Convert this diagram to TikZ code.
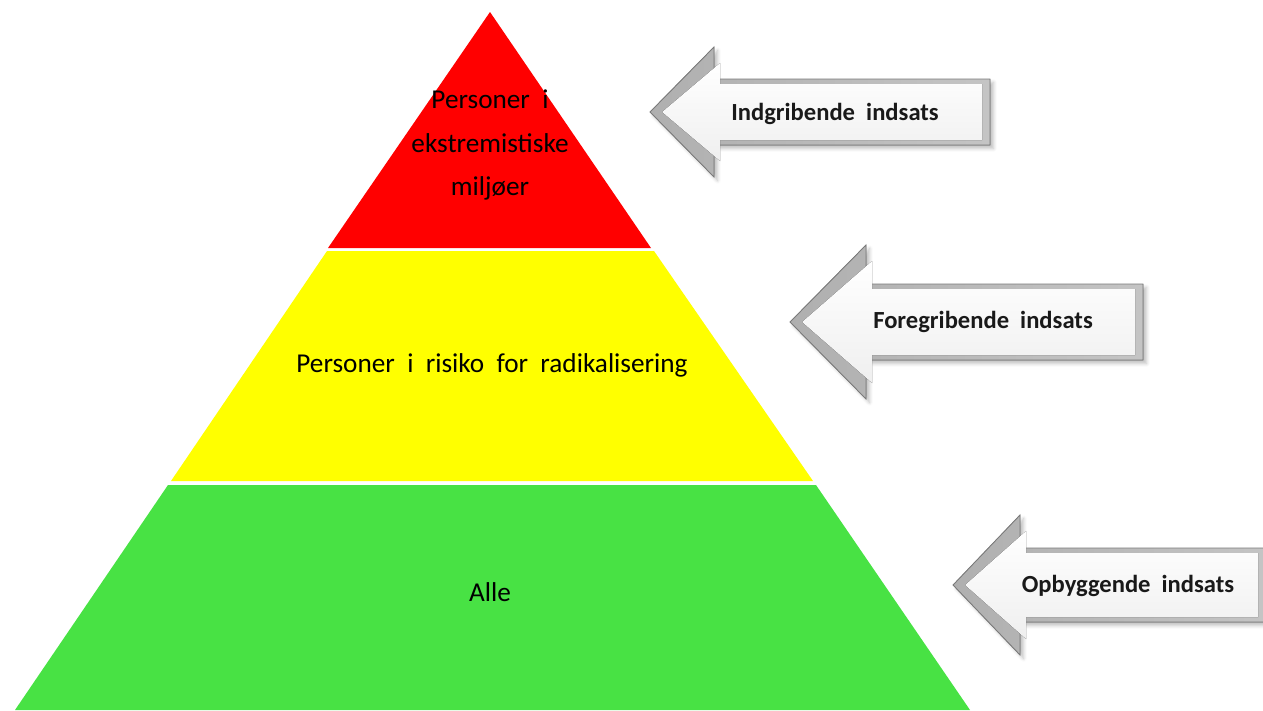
\documentclass[tikz,border=0pt]{standalone}
\usepackage{fontspec}
\setmainfont{Carlito}
\usetikzlibrary{shadows.blur}

\definecolor{topred}{HTML}{FF0000}
\definecolor{midyellow}{HTML}{FFFF00}
\definecolor{basegreen}{HTML}{48E244}
\definecolor{arrowrim}{HTML}{C4C4C4}
\definecolor{arrowedge}{HTML}{7A7A7A}
\definecolor{arrowface}{HTML}{EFEFEF}

% block arrow pointing left: tip x, centre y, head half height, head base x, shaft half height, right end x
\newcommand{\indsatspil}[6]{%
  \filldraw[left color=arrowedge!60, right color=arrowrim, draw=arrowedge, line width=0.5pt,
    blur shadow={shadow xshift=2pt, shadow yshift=-2pt, shadow blur steps=6, shadow opacity=25}]
    (#1,#2) -- (#4,#2-#3) -- (#4,#2-#5) -- (#6,#2-#5) -- (#6,#2+#5) -- (#4,#2+#5) -- (#4,#2+#3) -- cycle;
  \fill[top color=white, bottom color=arrowface]
    (#1+12,#2) -- (#4+6,#2-#3+16) -- (#4+6,#2-#5+5) -- (#6-8,#2-#5+5) -- (#6-8,#2+#5-5) -- (#4+6,#2+#5-5) -- (#4+6,#2+#3-16) -- cycle;
}

\tikzset{
  leveltext/.style={align=center, font=\fontsize{15.5}{25}\selectfont, inner sep=0pt},
  arrowtext/.style={font=\fontsize{14}{16}\selectfont\bfseries, text=black!90, inner sep=0pt}
}

\begin{document}
\begin{tikzpicture}[x=0.02cm, y=-0.02cm]
	\useasboundingbox (0,0) rectangle (1263,710);

	% pyramid
	\fill[topred] (490,12) -- (651,248) -- (328,248) -- cycle;
	\fill[midyellow] (327,251) -- (654,251) -- (813,481) -- (171,481) -- cycle;
	\fill[basegreen] (168,485) -- (816,485) -- (970,710) -- (15,710) -- cycle;

	\node[leveltext] (ekstrem) at (490,145) {Personer~ i\\ekstremistiske\\miljøer};
	\node[leveltext] (risiko) at (492,365) {Personer~ i~ risiko~ for~ radikalisering};
	\node[leveltext] (alle) at (490,592) {Alle};

	% arrows
	\indsatspil{650}{112}{65}{714}{33}{990}
	\indsatspil{790}{322}{77}{866}{38}{1143}
	\indsatspil{953}{585}{70}{1020}{37}{1266}

	\node[arrowtext] (indgribende) at (835,114) {Indgribende~ indsats};
	\node[arrowtext] (foregribende) at (983,322) {Foregribende~ indsats};
	\node[arrowtext] (opbyggende) at (1128,586) {Opbyggende~ indsats};

\end{tikzpicture}
\end{document}
